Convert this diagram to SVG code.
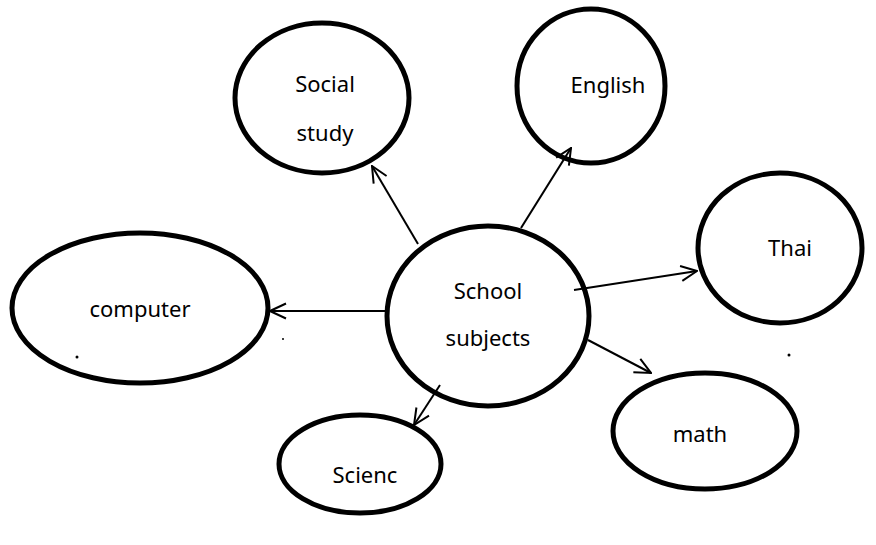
<svg xmlns="http://www.w3.org/2000/svg" width="876" height="545" viewBox="0 0 876 545">
<defs>
<style>
.node ellipse{fill:#fff;stroke:#000;stroke-width:5}
.node text{font-family:"Noto Sans","Open Sans",sans-serif;font-size:22px;fill:#000;text-anchor:middle}
.conn line{stroke:#000;stroke-width:2;marker-end:url(#arr)}
</style>
<marker id="arr" viewBox="0 0 18 18" refX="17" refY="9" markerWidth="18" markerHeight="18" markerUnits="userSpaceOnUse" orient="auto">
<path d="M1,1.5 L17,9 L1,16.5" fill="none" stroke="#000" stroke-width="2"/>
</marker>
</defs>
<rect width="876" height="545" fill="#fff"/>
<g id="social" class="node"><ellipse cx="322" cy="98" rx="87" ry="75"/><text x="325" y="92">Social</text><text x="325" y="141">study</text></g>
<g id="english" class="node"><ellipse cx="591" cy="86" rx="74" ry="77"/><text x="608" y="93">English</text></g>
<g id="thai" class="node"><ellipse cx="780" cy="248" rx="82" ry="75"/><text x="790" y="256">Thai</text></g>
<g id="computer" class="node"><ellipse cx="140" cy="308" rx="128" ry="75"/><text x="140" y="317">computer</text></g>
<g id="school" class="node"><ellipse cx="488" cy="316" rx="101" ry="90"/><text x="488" y="299">School</text><text x="488" y="346">subjects</text></g>
<g id="math" class="node"><ellipse cx="705" cy="431" rx="92" ry="58"/><text x="700" y="442">math</text></g>
<g id="scienc" class="node"><ellipse cx="360" cy="464" rx="81" ry="49"/><text x="365" y="483">Scienc</text></g>
<g id="connectors" class="conn">
<line x1="418" y1="244" x2="372" y2="166"/>
<line x1="521" y1="228" x2="571" y2="148"/>
<line x1="574" y1="290" x2="697" y2="271"/>
<line x1="387" y1="311" x2="270" y2="311"/>
<line x1="588" y1="340" x2="651" y2="373"/>
<line x1="440" y1="385" x2="414" y2="425"/>
</g>
<g id="dots" fill="#000"><circle cx="77" cy="357" r="1.5"/><circle cx="283" cy="339" r="1"/><circle cx="789" cy="355" r="1.5"/></g>
</svg>
